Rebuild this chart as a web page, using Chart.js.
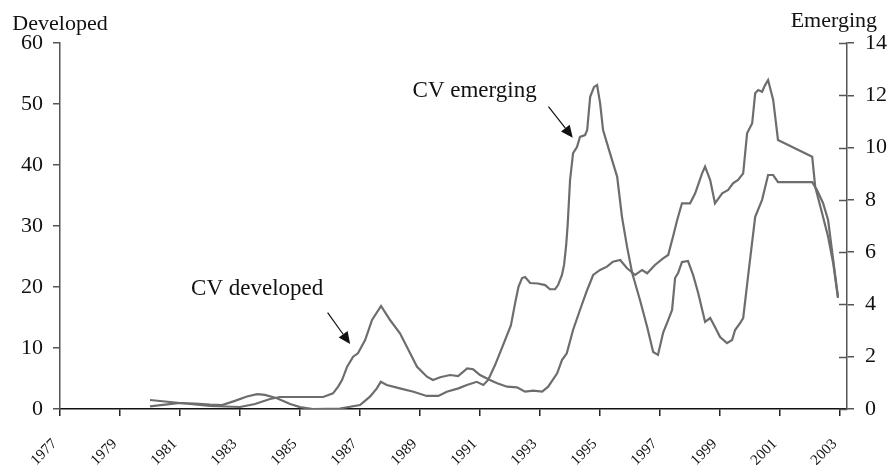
<!DOCTYPE html>
<html><head><meta charset="utf-8">
<script src="https://cdn.jsdelivr.net/npm/chart.js@4.4.1/dist/chart.umd.min.js"></script>
<style>html,body{margin:0;padding:0;background:#fff}</style>
</head><body>
<canvas id="c" width="888" height="465"></canvas>
<script>
const yearTicks = [1977,1979,1981,1983,1985,1987,1989,1991,1993,1995,1997,1999,2001,2003];
const developedTicks = [0,10,20,30,40,50,60];
const emergingTicks = [0,2,4,6,8,10,12,14];

const developedYears = [1980.0,1980.5,1981.0,1981.5,1982.0,1982.5,1983.0,1983.5,1984.0,1984.33,1985.0,1985.77,1986.1,1986.27,1986.4,1986.57,1986.77,1986.93,1987.17,1987.4,1987.7,1988.0,1988.33,1988.67,1988.9,1989.23,1989.43,1989.67,1990.0,1990.27,1990.57,1990.77,1991.0,1991.33,1991.57,1991.9,1992.23,1992.5,1992.77,1993.07,1993.27,1993.57,1993.73,1993.89,1994.1,1994.33,1994.57,1994.77,1995.0,1995.23,1995.43,1995.67,1995.9,1996.17,1996.4,1996.57,1996.83,1997.1,1997.27,1997.43,1997.57,1997.73,1998.0,1998.17,1998.4,1998.5,1998.67,1998.83,1999.07,1999.27,1999.43,1999.6,1999.77,1999.9,2000.07,2000.17,2000.27,2000.4,2000.5,2000.6,2000.77,2000.93,2002.07,2002.17,2002.4,2002.6,2002.77,2002.93];
const developedValues = [1.48,1.23,0.98,0.74,0.49,0.41,0.33,0.82,1.64,1.97,1.97,1.97,2.57,3.66,4.75,6.93,8.57,9.13,11.31,14.59,16.89,14.59,12.41,9.13,6.93,5.3,4.75,5.2,5.57,5.41,6.67,6.51,5.57,4.75,4.21,3.66,3.56,2.84,3.0,2.84,3.66,5.85,8.03,9.13,12.95,16.23,19.51,21.97,22.79,23.33,24.15,24.43,23.07,21.97,22.79,22.25,23.61,24.7,25.25,28.25,30.98,33.72,33.72,35.36,38.64,39.72,37.54,33.72,35.36,35.9,37.0,37.54,38.64,45.2,46.84,51.75,52.3,52.0,53.1,53.93,50.66,44.1,41.36,36.44,32.08,28.25,23.89,18.2];

const emergingYears = [1980.0,1980.5,1981.0,1981.5,1982.0,1982.4,1982.83,1983.23,1983.57,1983.83,1984.23,1984.67,1985.0,1985.43,1986.33,1987.0,1987.33,1987.56,1987.69,1987.89,1988.33,1988.78,1989.22,1989.61,1989.89,1990.28,1990.56,1990.89,1991.11,1991.27,1991.5,1991.77,1992.03,1992.17,1992.28,1992.4,1992.5,1992.67,1992.93,1993.17,1993.33,1993.5,1993.6,1993.73,1993.8,1993.87,1993.92,1994.0,1994.1,1994.23,1994.33,1994.5,1994.57,1994.67,1994.8,1994.9,1995.0,1995.1,1995.33,1995.57,1995.73,1995.9,1996.07,1996.33,1996.57,1996.77,1996.93,1997.1,1997.27,1997.4,1997.5,1997.6,1997.73,1997.93,1998.1,1998.27,1998.5,1998.67,1998.83,1999.0,1999.23,1999.4,1999.5,1999.67,1999.77,1999.93,2000.17,2000.4,2000.6,2000.77,2000.93,2002.07,2002.23,2002.43,2002.6,2002.77,2002.93];
const emergingValues = [0.10,0.17,0.23,0.21,0.17,0.15,0.31,0.48,0.57,0.54,0.41,0.19,0.07,0.0,0.02,0.15,0.47,0.79,1.04,0.92,0.79,0.66,0.5,0.5,0.66,0.79,0.92,1.04,0.92,1.11,1.68,2.45,3.21,4.06,4.67,5.01,5.05,4.82,4.8,4.74,4.58,4.58,4.74,5.13,5.51,6.27,7.04,8.76,9.79,10.02,10.41,10.48,10.67,11.94,12.32,12.39,11.71,10.67,9.79,8.88,7.35,6.2,5.2,4.17,3.14,2.18,2.07,2.91,3.4,3.79,5.01,5.2,5.62,5.66,5.13,4.44,3.33,3.48,3.14,2.75,2.52,2.64,3.02,3.29,3.48,5.05,7.35,8.0,8.95,8.95,8.68,8.68,8.38,7.88,7.23,5.7,4.28];

const leftTitle = 'Developed';
const rightTitle = 'Emerging';
const annotations = [
  {text: 'CV developed', tx: 1981.37, ty: 18.7, ax: 1985.92, ay: 15.79, bx: 1986.67, by: 10.66},
  {text: 'CV emerging', tx: 1988.75, ty: 51.15, ax: 1993.28, ay: 49.56, bx: 1994.09, by: 44.48}
];

const SERIF = '"Liberation Serif", "Times New Roman", serif';
const LINE = '#6d6d6d';

const extras = {
  id: 'extras',
  afterDraw(chart) {
    const ctx = chart.ctx;
    const x = chart.scales.x, y = chart.scales.y, y1 = chart.scales.y1;
    ctx.save();
    ctx.strokeStyle = '#555';
    ctx.lineWidth = 1.5;
    y1.ticks.forEach(t => {
      const py = Math.round(y1.getPixelForValue(t.value)) + 0.5;
      ctx.beginPath();
      ctx.moveTo(y1.left - 8, py);
      ctx.lineTo(y1.left, py);
      ctx.stroke();
    });
    ctx.fillStyle = '#111';
    ctx.font = '22px ' + SERIF;
    ctx.textBaseline = 'alphabetic';
    ctx.textAlign = 'center';
    ctx.fillText(leftTitle, y.right, 30);
    ctx.textAlign = 'right';
    ctx.fillText(rightTitle, y1.left + 30, 27);
    ctx.textAlign = 'left';
    ctx.font = '23px ' + SERIF;
    annotations.forEach(a => {
      ctx.fillStyle = '#111';
      ctx.fillText(a.text, x.getPixelForValue(a.tx), y.getPixelForValue(a.ty));
      const x0 = x.getPixelForValue(a.ax), y0 = y.getPixelForValue(a.ay);
      const x1 = x.getPixelForValue(a.bx), y1p = y.getPixelForValue(a.by);
      const ang = Math.atan2(y1p - y0, x1 - x0);
      const hl = 12, hw = 5.5;
      const bx = x1 - hl * Math.cos(ang), by = y1p - hl * Math.sin(ang);
      ctx.strokeStyle = '#111';
      ctx.lineWidth = 1.2;
      ctx.beginPath();
      ctx.moveTo(x0, y0);
      ctx.lineTo(bx, by);
      ctx.stroke();
      ctx.beginPath();
      ctx.moveTo(x1, y1p);
      ctx.lineTo(bx + hw * Math.sin(ang), by - hw * Math.cos(ang));
      ctx.lineTo(bx - hw * Math.sin(ang), by + hw * Math.cos(ang));
      ctx.closePath();
      ctx.fill();
    });
    ctx.restore();
  }
};

new Chart(document.getElementById('c'), {
  type: 'line',
  data: {
    datasets: [
      {
        label: 'CV developed',
        data: developedYears.map((v, i) => ({x: v, y: developedValues[i]})),
        yAxisID: 'y',
        borderColor: LINE, borderWidth: 2.2, pointRadius: 0, tension: 0, fill: false
      },
      {
        label: 'CV emerging',
        data: emergingYears.map((v, i) => ({x: v, y: emergingValues[i]})),
        yAxisID: 'y1',
        borderColor: LINE, borderWidth: 2.2, pointRadius: 0, tension: 0, fill: false
      }
    ]
  },
  options: {
    responsive: false,
    animation: false,
    devicePixelRatio: 1,
    layout: {padding: {top: 43, left: 0, right: 0, bottom: 0}},
    plugins: {legend: {display: false}, tooltip: {enabled: false}},
    scales: {
      x: {
        type: 'linear', min: 1977, max: 2003.23,
        afterBuildTicks: s => { s.ticks = yearTicks.map(v => ({value: v})); },
        afterFit: s => { s.height = 56; },
        ticks: {minRotation: 45, maxRotation: 45, padding: 14, color: '#111',
                font: {family: SERIF, size: 15}, callback: v => String(v) + '\u00a0\u00a0'},
        grid: {display: true, drawOnChartArea: false, drawTicks: true, tickLength: 7, color: '#222', lineWidth: 1.5},
        border: {display: true, color: '#111', width: 1.5}
      },
      y: {
        position: 'left', min: 0, max: 60,
        afterBuildTicks: s => { s.ticks = developedTicks.map(v => ({value: v})); },
        afterFit: s => { s.width = 60; },
        ticks: {padding: 10, color: '#111', font: {family: SERIF, size: 22}, callback: v => String(v)},
        grid: {display: true, drawOnChartArea: false, drawTicks: true, tickLength: 7, color: '#555', lineWidth: 1.5},
        border: {display: true, color: '#555', width: 1.5}
      },
      y1: {
        position: 'right', min: 0, max: 14,
        afterBuildTicks: s => { s.ticks = emergingTicks.map(v => ({value: v})); },
        afterFit: s => { s.width = 41; },
        ticks: {padding: 11, color: '#111', font: {family: SERIF, size: 22}, callback: v => String(v)},
        grid: {display: true, drawOnChartArea: false, drawTicks: true, tickLength: 7, color: '#555', lineWidth: 1.5},
        border: {display: true, color: '#555', width: 1.5}
      }
    }
  },
  plugins: [extras]
});
</script>
</body></html>
